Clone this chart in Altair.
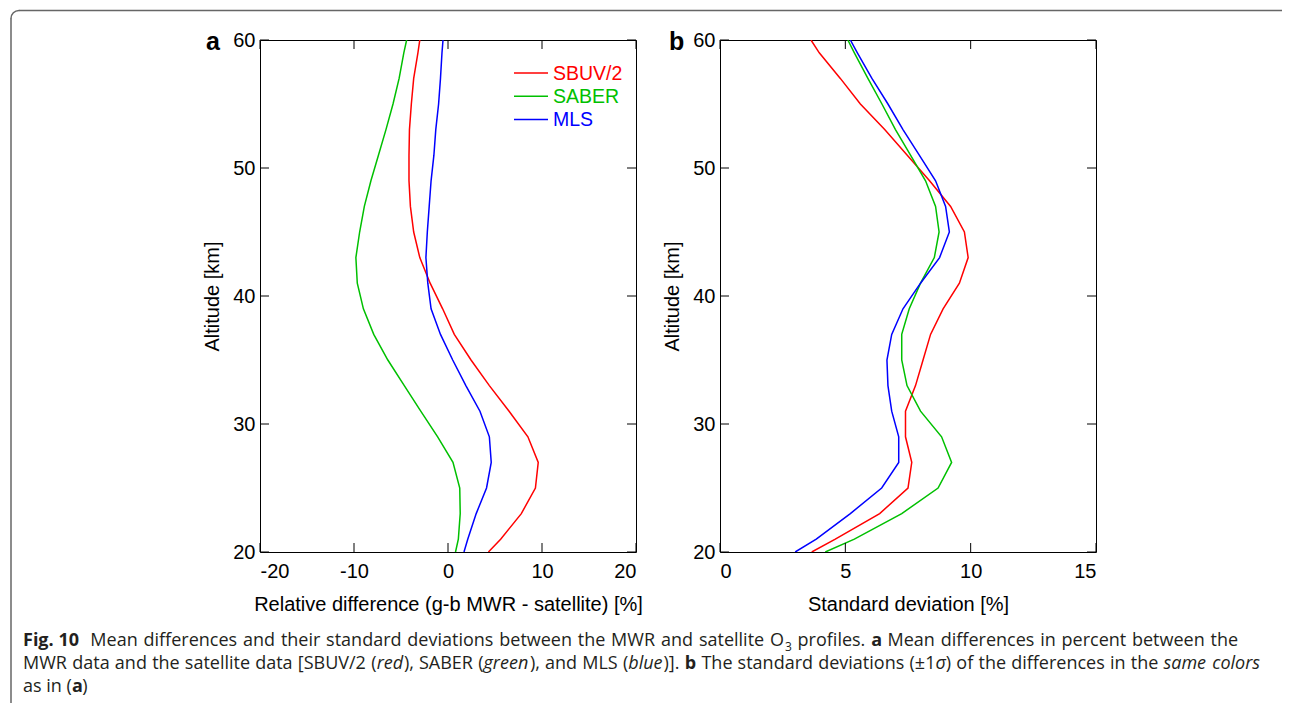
import altair as alt
import pandas as pd

# ---------------- data ----------------
series = ["SBUV/2", "SABER", "MLS"]
colors = ["#ff0000", "#00c000", "#0000ff"]

altitudes = [20, 21, 23, 25, 27, 29, 31, 33, 35, 37, 39, 41, 43, 45, 47, 49, 51, 53, 55, 57, 59, 60]

mean_sbuv = [4.3, 5.6, 7.8, 9.3, 9.6, 8.5, 6.5, 4.4, 2.45, 0.67, -0.57, -1.9, -3.0, -3.65, -4.0, -4.15, -4.15, -4.1, -3.9, -3.65, -3.2, -3.0]
mean_saber = [0.8, 1.1, 1.3, 1.25, 0.53, -1.1, -2.9, -4.65, -6.4, -7.9, -9.0, -9.65, -9.8, -9.4, -8.9, -8.2, -7.4, -6.6, -5.85, -5.2, -4.7, -4.4]
mean_mls = [1.7, 2.1, 3.0, 4.1, 4.6, 4.4, 3.4, 1.9, 0.5, -0.8, -1.8, -2.15, -2.35, -2.2, -2.0, -1.8, -1.5, -1.3, -1.0, -0.8, -0.64, -0.53]

std_sbuv = [3.66, 4.6, 6.37, 7.5, 7.65, 7.4, 7.4, 7.8, 8.1, 8.4, 8.9, 9.55, 9.9, 9.75, 9.2, 8.36, 7.47, 6.57, 5.6, 4.8, 3.96, 3.63]
std_saber = [4.2, 5.36, 7.25, 8.7, 9.24, 8.84, 8.0, 7.46, 7.25, 7.25, 7.55, 8.0, 8.55, 8.74, 8.6, 8.2, 7.6, 7.0, 6.46, 5.9, 5.36, 5.1]
std_mls = [3.0, 3.84, 5.2, 6.45, 7.13, 7.13, 6.85, 6.7, 6.66, 6.85, 7.3, 8.0, 8.76, 9.15, 9.0, 8.6, 7.95, 7.3, 6.7, 6.06, 5.48, 5.2]

xticks_a = [-20, -10, 0, 10, 20]
xticks_b = [0, 5, 10, 15]
yticks = [20, 30, 40, 50, 60]

xtitle_a = "Relative difference (g-b MWR - satellite) [%]"
xtitle_b = "Standard deviation [%]"
ytitle = "Altitude [km]"

# caption: words made of styled runs (n = normal, b = bold, i = italic, sub = subscript)
caption_line1 = [
    [("Fig.", "b")], [("10", "b")], [("Mean", "n")], [("differences", "n")], [("and", "n")],
    [("their", "n")], [("standard", "n")], [("deviations", "n")], [("between", "n")], [("the", "n")],
    [("MWR", "n")], [("and", "n")], [("satellite", "n")], [("O", "n"), ("3", "sub")],
    [("profiles.", "n")], [("a", "b")], [("Mean", "n")], [("differences", "n")], [("in", "n")],
    [("percent", "n")], [("between", "n")], [("the", "n")],
]
caption_line2 = [
    [("MWR", "n")], [("data", "n")], [("and", "n")], [("the", "n")], [("satellite", "n")],
    [("data", "n")], [("[SBUV/2", "n")], [("(", "n"), ("red", "i"), ("),", "n")],
    [("SABER", "n")], [("(", "n"), ("green", "i"), ("),", "n")], [("and", "n")], [("MLS", "n")],
    [("(", "n"), ("blue", "i"), (")].", "n")], [("b", "b")], [("The", "n")], [("standard", "n")],
    [("deviations", "n")], [("(\u00b11", "n"), ("\u03c3", "i"), (")", "n")], [("of", "n")],
    [("the", "n")], [("differences", "n")], [("in", "n")], [("the", "n")], [("same", "i")],
    [("colors", "i")],
]
caption_line3 = [[("as", "n")], [("in", "n")], [("(", "n"), ("a", "b"), (")", "n")]]

# ---------------- layout constants ----------------
W, H = 376, 512
OX, OY = 259, 39  # page position of panel a's plot origin
FONT = "Liberation Sans"
CAP_FONT = "Open Sans"
CAP_SIZE = 18
SUB_SIZE = 12

# approximate Open Sans advance widths (em) used to justify the caption lines
EM = {
    " ": .26, ".": .266, ",": .245, "(": .296, ")": .296, "[": .329, "]": .329, "/": .367,
    "\u00b1": .572, "\u03c3": .60,
    "A": .633, "B": .648, "E": .556, "F": .516, "L": .524, "M": .903, "O": .779, "R": .618,
    "S": .549, "T": .548, "U": .738, "V": .598, "W": .929,
    "a": .556, "b": .613, "c": .476, "d": .613, "e": .561, "f": .339, "g": .548, "h": .614,
    "i": .253, "k": .525, "l": .253, "m": .930, "n": .614, "o": .604, "p": .613, "r": .408,
    "s": .477, "t": .353, "u": .614, "v": .501, "w": .778, "x": .524, "y": .502, "z": .477,
}
for d in "0123456789":
    EM[d] = .572
FACTOR = {"n": 1.0, "b": 1.04, "i": 0.96, "sub": 1.0}


def run_w(text, style):
    size = SUB_SIZE if style == "sub" else CAP_SIZE
    return sum(EM.get(ch, .55) for ch in text) * size * FACTOR[style]


def word_w(word):
    return sum(run_w(t, s) for t, s in word)


def layout_line(words, x0, x1, base, gaps=None):
    sp = EM[" "] * CAP_SIZE
    n = len(words) - 1
    weights = gaps or [1] * n
    natural = sum(word_w(w) for w in words) + sum(weights) * sp + sum(
        1 for w in words for _, s in w if s == "sub")
    extra = max((x1 - x0 - natural) / n, -1.5) if x1 is not None else 0
    out = []
    x = x0
    for k, w in enumerate(words):
        for t, s in w:
            if s == "sub":
                x += 1
            out.append((t, x, base + (4.5 if s == "sub" else 0), s))
            x += run_w(t, s)
        if k < n:
            x += weights[k] * sp + extra
    return out


gaps1 = [1] * (len(caption_line1) - 1)
gaps1[1] = 2
caption_runs = (layout_line(caption_line1, 22, 1237, 645, gaps1)
                + layout_line(caption_line2, 22, 1260, 668)
                + layout_line(caption_line3, 22, None, 691))


def long_df(vals):
    rows = []
    for name, v in zip(series, vals):
        for a, x in zip(altitudes, v):
            rows.append({"series": name, "alt": a, "value": x})
    return pd.DataFrame(rows)


one = pd.DataFrame({"k": [0]})


def panel(df, xdomain, xticks, xtitle, letter, letter_dx, extra=None):
    xs = alt.Scale(domain=xdomain, nice=False, zero=False)
    ys = alt.Scale(domain=[20, 60], nice=False, zero=False)
    xax = alt.Axis(values=xticks, title=xtitle, labelExpr="'' + datum.value")
    yax = alt.Axis(values=yticks, title=ytitle)
    X = alt.X("value:Q", scale=xs, axis=xax)
    Y = alt.Y("alt:Q", scale=ys, axis=yax)
    lines = alt.Chart(df).mark_line(strokeWidth=1.5, clip=True).encode(
        x=X, y=Y,
        color=alt.Color("series:N", scale=alt.Scale(domain=series, range=colors), legend=None),
        order=alt.Order("alt:Q"),
    )
    xt = pd.DataFrame({"value": xticks})
    yt = pd.DataFrame({"alt": yticks})
    tb = alt.Chart(xt).mark_rule(color="black", strokeWidth=1).encode(
        x=X, y=alt.value(H), y2=alt.value(H - 9))
    tt = alt.Chart(xt).mark_rule(color="black", strokeWidth=1).encode(
        x=X, y=alt.value(0), y2=alt.value(9))
    tl = alt.Chart(yt).mark_rule(color="black", strokeWidth=1).encode(
        y=Y, x=alt.value(0), x2=alt.value(9))
    tr = alt.Chart(yt).mark_rule(color="black", strokeWidth=1).encode(
        y=Y, x=alt.value(W), x2=alt.value(W - 9))
    lab = alt.Chart(one).mark_text(text=letter, font=FONT, fontWeight="bold", fontSize=25,
                                   align="left", baseline="alphabetic", color="black").encode(
        x=alt.value(letter_dx), y=alt.value(10))
    layers = [lines, tb, tt, tl, tr, lab]
    if extra:
        layers += extra
    return alt.layer(*layers).properties(width=W, height=H)


# legend (decoration) inside panel a
legend_layers = []
for i, (name, col) in enumerate(zip(series, colors)):
    yy = 33 + 23.3 * i
    legend_layers.append(alt.Chart(one).mark_rule(color=col, strokeWidth=1.5).encode(
        x=alt.value(254), x2=alt.value(288), y=alt.value(yy)))
    legend_layers.append(alt.Chart(one).mark_text(text=name, font=FONT, fontSize=19.5, color=col,
                                                  align="left", baseline="middle").encode(
        x=alt.value(293), y=alt.value(yy + 0.5)))

# caption and frame (decoration), in panel-a pixel coordinates
deco = []
for txt, px, py, st in caption_runs:
    deco.append(alt.Chart(one).mark_text(
        text=txt, font=CAP_FONT, fontSize=SUB_SIZE if st == "sub" else CAP_SIZE,
        fontWeight="bold" if st == "b" else "normal",
        fontStyle="italic" if st == "i" else "normal",
        color="#231f20", align="left", baseline="alphabetic").encode(
        x=alt.value(px - OX), y=alt.value(py - OY)))

BC = "#666666"
# white 1x1 anchor at the page's top-left content corner
deco.append(alt.Chart(one).mark_rect(color="white").encode(
    x=alt.value(8 - OX), x2=alt.value(9 - OX), y=alt.value(8 - OY), y2=alt.value(9 - OY)))
deco.append(alt.Chart(one).mark_rule(color=BC, strokeWidth=1.5).encode(
    x=alt.value(18 - OX), x2=alt.value(1281 - OX), y=alt.value(9.5 - OY)))
deco.append(alt.Chart(one).mark_rule(color=BC, strokeWidth=1.5).encode(
    x=alt.value(10 - OX), y=alt.value(17.5 - OY), y2=alt.value(702 - OY)))
deco.append(alt.Chart(one).mark_arc(radius=8, radius2=8, theta=4.7124, theta2=6.2832,
                                    stroke=BC, strokeWidth=1.5, fillOpacity=0,
                                    strokeJoin="round").encode(
    x=alt.value(18 - OX), y=alt.value(17.5 - OY)))

pa = panel(long_df([mean_sbuv, mean_saber, mean_mls]), [-20, 20], xticks_a, xtitle_a, "a", -54,
           extra=legend_layers + deco)
pb = panel(long_df([std_sbuv, std_saber, std_mls]), [0, 15], xticks_b, xtitle_b, "b", -51)

chart = alt.hconcat(pa, pb, spacing=84, bounds="flush").properties(
    padding={"left": 0, "top": 0, "right": 0, "bottom": 0}
).configure_view(stroke="black", strokeWidth=1).configure_axis(
    domain=False, ticks=False, tickSize=0, grid=False,
    labelFont=FONT, labelFontSize=20, labelColor="black",
    titleFont=FONT, titleFontSize=20, titleFontWeight="normal", titleColor="black",
).configure_axisBottom(labelPadding=9, titlePadding=13).configure_axisLeft(
    labelPadding=5, titlePadding=10)

chart.save("out.html", embed_options={"renderer": "svg", "actions": False})
